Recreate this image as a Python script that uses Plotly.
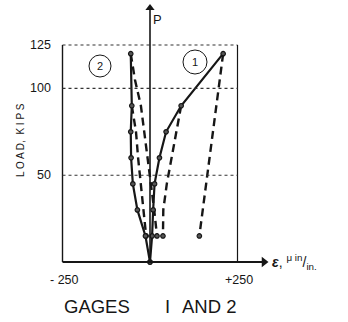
import plotly.graph_objects as go

# ---- data (strain in micro-in/in, load in kips) ----
g1_load_solid = [0, 15, 30, 45, 60, 75, 90, 120]
g1_strain_solid = [0, 6, 9, 13, 27, 46, 89, 209]
g1_unload90_load = [90, 60, 45, 30, 15]
g1_unload90_strain = [89, 62, 48, 38, 37]
g1_unload120_load = [120, 90, 60, 30, 15]
g1_unload120_strain = [209, 190, 170, 150, 141]

g2_load_solid = [0, 15, 30, 45, 60, 75, 90, 120]
g2_strain_solid = [0, -13, -36, -49, -54, -55, -52, -55]
g2_dashA_load = [90, 75, 60, 45, 30, 15]
g2_dashA_strain = [-52, -40, -34, -26, -17, -11]
g2_dashB_load = [120, 105, 90, 75, 60, 45, 30, 15]
g2_dashB_strain = [-55, -43, -26, -16, -7, 3, 12, 20]

y_ticks = [50, 100, 125]
x_tick_vals = [-250, 250]
x_tick_text = ["- 250", "+250"]
grid_loads = [50, 100]

# ---- mapping: full figure is the plot area ----
W, H = 348, 322
XPX = 0.35      # px per micro-strain
YPX = 1.736     # px per kip
X0PX, Y0PX = 150, 262
xr = [-X0PX / XPX, (W - X0PX) / XPX]
yr = [-(H - Y0PX) / YPX, Y0PX / YPX]

def dx(px):
    return (px - X0PX) / XPX

def dy(py):
    return (Y0PX - py) / YPX

INK = "#161616"
fig = go.Figure()

MK = dict(symbol="circle", size=4.5, color="#555",
          line=dict(color=INK, width=1.2))

def solid(x, y):
    fig.add_trace(go.Scatter(x=x, y=y, mode="lines+markers",
                             line=dict(color=INK, width=2.2),
                             marker=MK, showlegend=False, hoverinfo="skip"))

def dashed(x, y):
    fig.add_trace(go.Scatter(x=x, y=y, mode="lines",
                             line=dict(color=INK, width=2.4, dash="8px,5px"),
                             showlegend=False, hoverinfo="skip"))
    fig.add_trace(go.Scatter(x=[x[-1]], y=[y[-1]], mode="markers",
                             marker=MK, showlegend=False, hoverinfo="skip"))

shapes = []
# frame and grid
shapes.append(dict(type="line", x0=-250, x1=250, y0=125, y1=125,
                   line=dict(color="#333", width=1.1, dash="dot")))
shapes.append(dict(type="line", x0=-250, x1=-250, y0=0, y1=125,
                   line=dict(color=INK, width=1.4)))
shapes.append(dict(type="line", x0=250, x1=250, y0=0, y1=125,
                   line=dict(color=INK, width=1.2)))
for g in grid_loads:
    shapes.append(dict(type="line", x0=-250, x1=250, y0=g, y1=g,
                       line=dict(color="#333", width=1.1, dash="dot")))
# axes
shapes.append(dict(type="line", x0=-250, x1=dx(262), y0=0, y1=0,
                   line=dict(color=INK, width=2)))
shapes.append(dict(type="line", x0=0, x1=0, y0=0, y1=dy(9),
                   line=dict(color=INK, width=1.6)))
# circled gage labels
for cxp, cyp, r in [(100, 66, 11), (195, 62, 12)]:
    shapes.append(dict(type="circle", x0=dx(cxp - r), x1=dx(cxp + r),
                       y0=dy(cyp + r), y1=dy(cyp - r),
                       line=dict(color=INK, width=1)))
fig.update_layout(shapes=shapes)

dashed(g1_unload120_strain, g1_unload120_load)
dashed(g1_unload90_strain, g1_unload90_load)
dashed(g2_dashA_strain, g2_dashA_load)
dashed(g2_dashB_strain, g2_dashB_load)
solid(g1_strain_solid, g1_load_solid)
solid(g2_strain_solid, g2_load_solid)

# arrowheads
fig.add_trace(go.Scatter(x=[dx(264)], y=[0], mode="markers",
                         marker=dict(symbol="triangle-right", size=9, color=INK),
                         showlegend=False, hoverinfo="skip"))
fig.add_trace(go.Scatter(x=[0], y=[dy(8)], mode="markers",
                         marker=dict(symbol="triangle-up", size=8, color=INK),
                         showlegend=False, hoverinfo="skip"))

ann = []
font = dict(family="Liberation Sans, Arial, sans-serif", color=INK)
for t in y_ticks:
    ann.append(dict(x=dx(53), y=t, xref="x", yref="y", text=str(t),
                    showarrow=False, xanchor="right", yanchor="middle",
                    font=dict(size=12.5, **font)))
for v, s in zip(x_tick_vals, x_tick_text):
    ann.append(dict(x=v + 5, y=dy(280), xref="x", yref="y", text=s,
                    showarrow=False, xanchor="center", yanchor="middle",
                    font=dict(size=12.5, **font)))
ann.append(dict(x=dx(20), y=dy(140), xref="x", yref="y",
                text="L O A D,  K I P S", textangle=-90, showarrow=False,
                font=dict(size=10, **font)))
ann.append(dict(x=dx(62), y=dy(306), xref="x", yref="y", text="GAGES",
                showarrow=False, xanchor="left", yanchor="middle",
                font=dict(size=18.5, **font)))
ann.append(dict(x=dx(167), y=dy(306), xref="x", yref="y", text="I",
                showarrow=False, xanchor="center", yanchor="middle",
                font=dict(size=18.5, **font)))
ann.append(dict(x=dx(180), y=dy(306), xref="x", yref="y", text="AND 2",
                showarrow=False, xanchor="left", yanchor="middle",
                font=dict(size=18.5, **font)))
ann.append(dict(x=dx(270), y=0, xref="x", yref="y",
                text="<b><i>ε</i></b>, <sup>μ in</sup>/<sub>in.</sub>",
                showarrow=False, xanchor="left", yanchor="middle",
                font=dict(size=14, **font)))
ann.append(dict(x=dx(157), y=dy(19), xref="x", yref="y",
                text="P", showarrow=False, font=dict(size=13, **font)))
ann.append(dict(x=dx(100), y=dy(66), xref="x", yref="y", text="2", showarrow=False,
                font=dict(size=11, **font)))
ann.append(dict(x=dx(195), y=dy(62), xref="x", yref="y", text="1", showarrow=False,
                font=dict(size=11, **font)))
fig.update_layout(annotations=ann)

fig.update_layout(width=W, height=H, margin=dict(l=0, r=0, t=0, b=0),
                  paper_bgcolor="white", plot_bgcolor="white",
                  xaxis=dict(range=xr, visible=False, fixedrange=True),
                  yaxis=dict(range=yr, visible=False, fixedrange=True))
fig.write_html("out.html")
